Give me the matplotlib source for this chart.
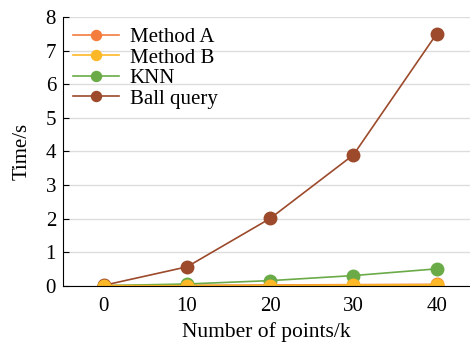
import matplotlib
matplotlib.use("Agg")
import matplotlib.pyplot as plt

plt.rcParams['font.family'] = ['Liberation Serif', 'DejaVu Serif']
plt.rcParams['mathtext.fontset'] = 'stix'

x = [0, 10, 20, 30, 40]
method_a = [0.01, 0.02, 0.03, 0.04, 0.05]
method_b = [0.01, 0.01, 0.01, 0.02, 0.03]
knn = [0.01, 0.06, 0.16, 0.31, 0.51]
ball = [0.02, 0.57, 2.01, 3.9, 7.5]

series = [("Method A", method_a, "#F47C3C"),
          ("Method B", method_b, "#FDB827"),
          ("KNN", knn, "#6AAB47"),
          ("Ball query", ball, "#9C4A2B")]

fig = plt.figure(figsize=(4.7, 3.45), dpi=100)
ax = fig.add_axes([0.134, 0.171, 0.866, 0.78])

for label, y, c in series:
    ax.plot(x, y, color=c, lw=1.2, marker='o', markersize=9, label=label)
# draw Method B on top as in reference
ax.plot(x, method_b, color="#FDB827", lw=1.2, marker='o', markersize=9)

ax.set_xlim(-4.9, 44)
ax.set_ylim(0, 8)
ax.set_xticks(x)
ax.set_yticks(range(0, 9))
ax.grid(axis='y', color='#dddddd', lw=1)
ax.set_axisbelow(True)
for s in ['top', 'right']:
    ax.spines[s].set_visible(False)
ax.tick_params(axis='y', direction='in', length=4, labelsize=15, pad=5)
ax.tick_params(axis='x', length=0, labelsize=15, pad=8)
ax.set_xlabel("Number of points/k", fontsize=15.5, labelpad=4)
ax.set_ylabel("Time/s", fontsize=15, labelpad=10)
leg = ax.legend(loc='upper left', frameon=False, fontsize=15, handlelength=2.2,
                labelspacing=0.05, borderaxespad=0.2, borderpad=0.3,
                handletextpad=0.5, markerscale=0.8)

fig.savefig("out.png", dpi=100)
